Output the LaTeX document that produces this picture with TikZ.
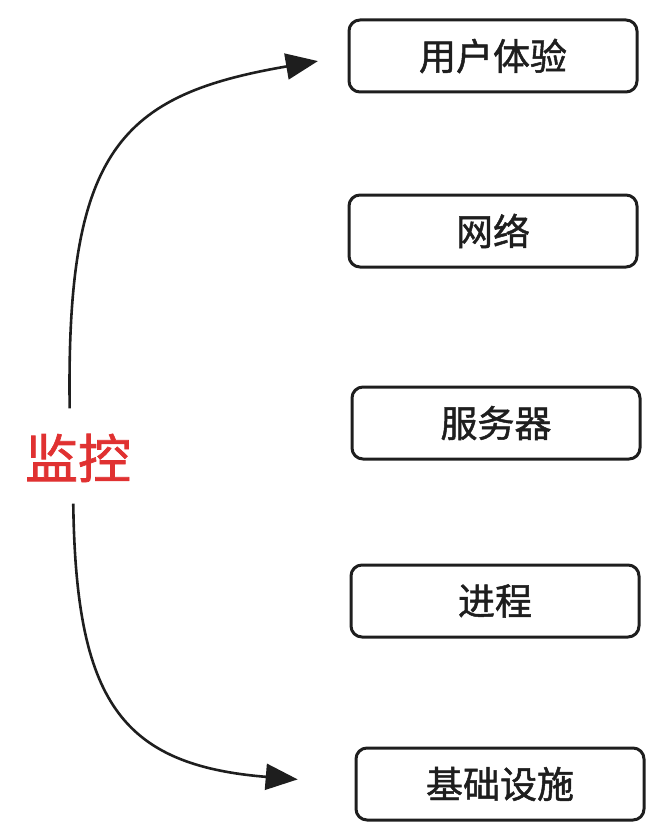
\documentclass[tikz,border=0pt]{standalone}
\usepackage{fontspec}
\newfontfamily\cjk[FakeBold=1.3]{Noto Sans CJK SC}
\usepackage{xcolor}
\usetikzlibrary{positioning,arrows.meta}
\definecolor{monred}{HTML}{E03131}
\definecolor{ink}{HTML}{1E1E1E}

\begin{document}
\begin{tikzpicture}[x=1pt, y=-1pt, font=\cjk\fontsize{37}{42}\selectfont,
  box/.style={draw=ink, line width=3pt, rounded corners=11pt, minimum width=288pt, minimum height=72pt, text=ink},
  lbl/.style={text=monred, font=\cjk\fontsize{53}{60}\selectfont},
  arr/.style={-{Triangle[length=32pt, width=26pt]}, line width=2.6pt, ink}]
\useasboundingbox (0,0) rectangle (666,840);
\node[box] (ux) at (493,56) {用户体验};
\node[box] (net) at (493,231) {网络};
\node[box] (srv) at (496,423) {服务器};
\node[box] (proc) at (495,601) {进程};
\node[box] (infra) at (500,784) {基础设施};
\node[lbl] (mon) at (78,458) {监控};
\draw[arr, shorten <=22pt, shorten >=30pt] (mon.north) ++(-8,0) .. controls (66,150) and (120,95) .. (ux.west);
\draw[arr, shorten <=18pt, shorten >=57pt] (mon.south) ++(-5,0) .. controls (76,700) and (120,765) .. (infra.west);
\end{tikzpicture}
\end{document}
